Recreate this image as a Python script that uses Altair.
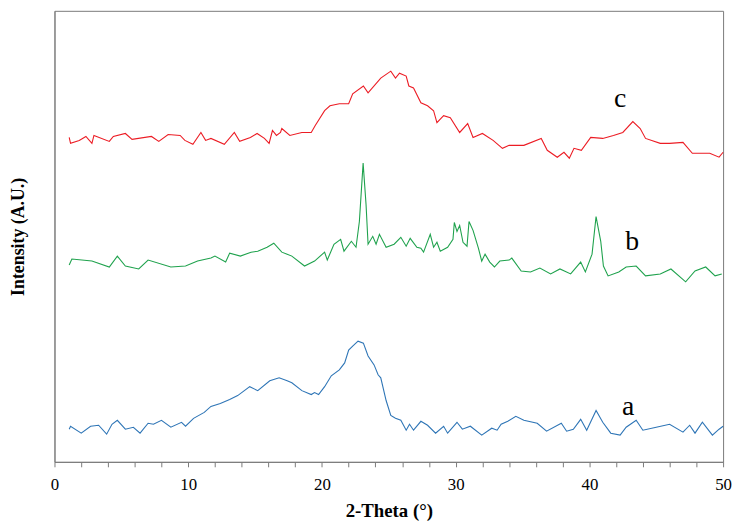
import altair as alt
import pandas as pd

# Curve a (blue)
a_theta = [1.1, 1.2, 2.0, 2.7, 3.3, 3.9, 4.3, 4.7, 5.3, 5.9, 6.4, 7.0, 7.4, 8.0, 8.7, 9.5, 9.8,
           10.4, 11.2, 11.7, 12.4, 13.1, 13.7, 14.6, 15.2, 16.1, 16.8, 17.4, 17.75, 18.5, 19.2,
           19.45, 19.75, 20.2, 20.7, 21.3, 21.7, 22.0, 22.3, 22.7, 23.1, 23.45, 23.9, 24.2, 24.4,
           24.8, 25.15, 25.5, 25.9, 26.3, 26.55, 26.85, 27.4, 27.9, 28.5, 29.1, 29.4, 30.1, 30.5,
           31.1, 31.95, 32.7, 33.1, 33.4, 33.9, 34.5, 35.1, 36.1, 36.8, 37.9, 38.3, 38.8, 39.35,
           39.8, 40.5, 41.0, 41.6, 42.3, 42.75, 43.5, 44.0, 45.0, 46.0, 47.0, 47.5, 47.9, 48.45,
           49.2, 49.7, 50.0]
a_int = [33, 36, 29, 36, 37, 28, 38, 42, 33, 35, 29, 39, 38, 42, 35, 40, 36,
         44, 50, 56, 59, 63, 67, 76, 72, 82, 85, 82, 80, 72, 68,
         70, 68, 76, 87, 93, 100, 113, 117, 122, 120, 107, 98, 88, 85,
         62, 47, 44, 42, 32, 38, 32, 41, 37, 29, 36, 29, 40, 33,
         36, 27, 34, 32, 38, 41, 46, 42, 39, 31, 39, 31, 33, 43,
         32, 52, 40, 29, 27, 35, 42, 32, 35, 38, 30, 37, 29, 40,
         27, 33, 36]

# Curve b (green)
b_theta = [1.1, 1.3, 2.8, 4.1, 4.7, 5.3, 6.3, 7.0, 8.7, 9.8, 10.7, 11.7, 12.0, 12.8, 13.1, 13.9,
           14.7, 15.2, 15.9, 16.4, 17.0, 17.4, 17.75, 18.7, 19.45, 20.2, 20.4, 20.9, 21.4, 21.65,
           22.2, 22.55, 22.8, 23.08, 23.3, 23.45, 23.8, 24.05, 24.3, 24.8, 25.4, 25.9, 26.3, 26.6,
           27.1, 27.4, 27.6, 28.1, 28.35, 28.6, 28.85, 29.4, 29.8, 29.9, 30.1, 30.3, 30.55, 30.85,
           31.0, 31.3, 31.7, 31.95, 32.2, 32.55, 32.9, 33.3, 34.0, 34.2, 34.9, 35.6, 36.3, 37.1,
           37.8, 38.6, 39.35, 39.7, 40.2, 40.5, 40.85, 41.05, 41.4, 42.2, 42.75, 43.5, 44.2, 45.3,
           46.1, 47.2, 47.9, 48.7, 49.4, 49.9]
b_int = [199, 205, 203, 197, 208, 198, 195, 204, 197, 198, 203, 206, 208, 202, 211, 208,
         212, 213, 217, 221, 212, 210, 208, 198, 203, 212, 204, 220, 225, 213,
         223, 217, 243, 302, 260, 220, 228, 220, 230, 217, 220, 227, 218, 226,
         217, 216, 212, 230, 217, 222, 213, 217, 225, 242, 233, 239, 222, 218,
         243, 234, 216, 203, 210, 202, 197, 203, 204, 206, 193, 192, 196, 190,
         195, 190, 202, 192, 210, 248, 223, 198, 188, 192, 197, 198, 188, 190,
         195, 182, 193, 197, 188, 190]

# Curve c (red)
c_theta = [1.1, 1.2, 1.85, 2.35, 2.8, 2.95, 4.1, 4.4, 5.3, 5.8, 7.25, 7.8, 8.5, 9.4, 9.75,
           10.35, 10.95, 11.3, 11.7, 12.7, 13.45, 13.85, 14.65, 15.15, 15.7, 16.05, 16.3, 16.6,
           16.9, 17.0, 17.6, 18.5, 19.2, 19.5, 20.2, 20.6, 21.3, 22.0, 22.3, 23.1, 23.45, 24.4,
           25.15, 25.5, 25.8, 26.3, 26.5, 26.85, 27.4, 27.9, 28.35, 28.6, 29.1, 29.6, 30.3, 30.9,
           31.3, 32.0, 32.8, 33.5, 34.0, 35.1, 36.4, 36.85, 37.6, 38.1, 38.5, 38.85, 39.4, 40.1,
           41.0, 41.8, 42.5, 43.25, 43.8, 44.2, 45.3, 46.0, 47.0, 47.7, 49.0, 49.7, 50.0]
c_int = [328, 322, 325, 329, 322, 330, 324, 329, 332, 326, 329, 324, 331, 330, 325,
         321, 333, 325, 327, 321, 333, 324, 328, 332, 327, 322, 335, 330,
         333, 337, 330, 333, 333, 340, 355, 360, 362, 362, 372, 380, 373, 388,
         395, 388, 393, 390, 380, 378, 363, 360, 355, 343, 350, 348, 333, 342,
         328, 332, 325, 317, 320, 320, 327, 315, 308, 313, 307, 317, 315, 328,
         327, 330, 333, 344, 337, 327, 322, 322, 323, 312, 312, 308, 313]

series_names = ["a", "b", "c"]
series_colors = ["#2e75b6", "#1fa24d", "#ec1c24"]

label_text = ["a", "b", "c"]
label_theta = [42.9, 43.2, 42.3]
label_int = [55, 222, 367]

x_ticks = list(range(0, 51, 2))

rows = []
for name, xs, ys in [("a", a_theta, a_int), ("b", b_theta, b_int), ("c", c_theta, c_int)]:
    for i, (xv, yv) in enumerate(zip(xs, ys)):
        rows.append({"series": name, "theta": xv, "intensity": yv, "order": i})
df = pd.DataFrame(rows)
labels_df = pd.DataFrame({"label": label_text, "theta": label_theta, "intensity": label_int})

x_scale = alt.Scale(domain=[0, 50], nice=False, zero=False)
y_scale = alt.Scale(domain=[0, 456], nice=False)

x_axis = alt.Axis(title="2-Theta (°)", values=x_ticks,
                  labelExpr="datum.value % 10 == 0 ? datum.label : ''",
                  labelOverlap=False, labelFlush=False,
                  grid=False, tickSize=5, labelPadding=10, titlePadding=9,
                  domainColor="#7a7a7a", tickColor="#7a7a7a",
                  labelFont="Liberation Serif", labelFontSize=17, labelColor="#000",
                  titleFont="Liberation Serif", titleFontSize=19, titleFontWeight="bold",
                  titleColor="#000")
y_axis = alt.Axis(title="Intensity (A.U.)", labels=False, ticks=False, grid=False,
                  domainColor="#7a7a7a", titlePadding=27,
                  titleFont="Liberation Serif", titleFontSize=18, titleFontWeight="bold",
                  titleColor="#000")

lines = alt.Chart(df).mark_line(strokeWidth=1.1).encode(
    x=alt.X("theta:Q", scale=x_scale, axis=x_axis),
    y=alt.Y("intensity:Q", scale=y_scale, axis=y_axis),
    color=alt.Color("series:N", scale=alt.Scale(domain=series_names, range=series_colors), legend=None),
    order="order:Q",
)

texts = alt.Chart(labels_df).mark_text(font="Liberation Serif", fontSize=28, color="#000").encode(
    x=alt.X("theta:Q", scale=x_scale, axis=x_axis),
    y=alt.Y("intensity:Q", scale=y_scale, axis=y_axis),
    text="label:N",
)

chart = (lines + texts).properties(
    width=676, height=456,
    autosize=alt.AutoSizeParams(type="none"),
    padding={"left": 47, "top": 0, "right": 9, "bottom": 61},
).configure_view(stroke="#7a7a7a", strokeWidth=1)

chart.save("out.html", embed_options={"renderer": "svg", "actions": False})
